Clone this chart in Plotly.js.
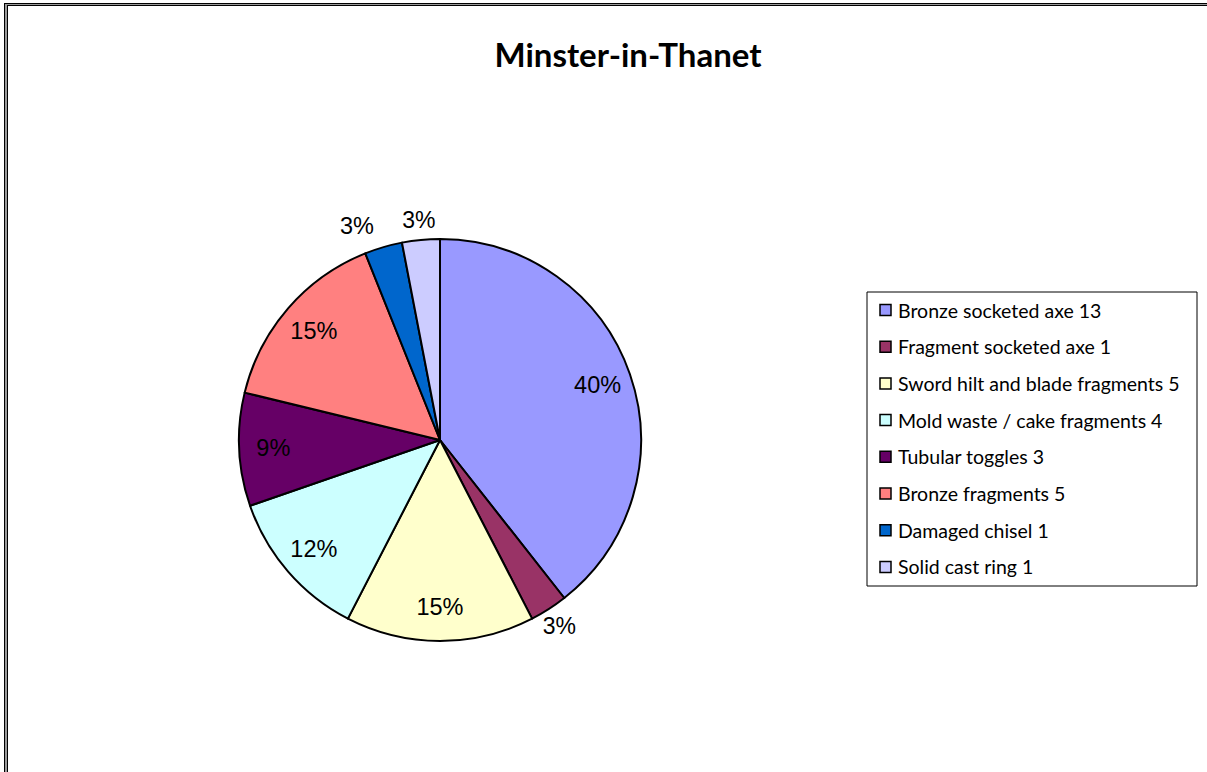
<!DOCTYPE html>
<html>
<head>
<meta charset="utf-8">
<script src="https://cdn.plot.ly/plotly-3.0.1.min.js"></script>
<style>
  html, body { margin: 0; padding: 0; background: #fff; }
  #wrap { position: relative; width: 1207px; height: 772px; overflow: hidden; }
  #chart { position: absolute; left: 0; top: 0; width: 1207px; height: 772px; }
  .ln { position: absolute; pointer-events: none; }
</style>
</head>
<body>
<div id="wrap">
  <div id="chart"></div>
  <div class="ln" style="left:4px; top:3px; width:1203px; height:1px; background:#000;"></div>
  <div class="ln" style="left:4px; top:4px; width:1203px; height:1px; background:#9a9a9a;"></div>
  <div class="ln" style="left:7px; top:5px; width:1200px; height:1px; background:#000;"></div>
  <div class="ln" style="left:4px; top:3px; width:1px; height:769px; background:#000;"></div>
  <div class="ln" style="left:5px; top:4px; width:2px; height:768px; background:#9a9a9a;"></div>
  <div class="ln" style="left:7px; top:5px; width:1px; height:767px; background:#000;"></div>
</div>
<script>
// ---- data ----
const categories = [
  "Bronze socketed axe 13",
  "Fragment socketed axe 1",
  "Sword hilt and blade fragments 5",
  "Mold waste / cake fragments 4",
  "Tubular toggles 3",
  "Bronze fragments 5",
  "Damaged chisel 1",
  "Solid cast ring 1"
];
const counts = [13, 1, 5, 4, 3, 5, 1, 1];
const percentLabels = ["40%", "3%", "15%", "12%", "9%", "15%", "3%", "3%"];
// where each label sits: inside the slice, in a ring just beyond the rim, or pushed outside
const labelPlacement = ["inside", "rim", "inside", "inside", "inside", "inside", "outside", "rim"];
const sliceColors = ["#9999FF", "#993366", "#FFFFCC", "#CCFFFF", "#660066", "#FF8080", "#0066CC", "#CCCCFF"];

// ---- layout helpers (pixels -> paper) ----
const W = 1207, H = 772;
const px = x => x / W;
const py = y => 1 - y / H;
const CX = 440, CY = 440, R = 201;
const dom = r => ({ x: [px(CX - r), px(CX + r)], y: [py(CY + r), py(CY - r)] });

const piePie = {
  type: "pie",
  labels: categories,
  values: counts,
  sort: false,
  direction: "clockwise",
  rotation: 0,
  domain: dom(R),
  marker: { colors: sliceColors, line: { color: "#000", width: 2 } },
  textinfo: "none",
  hoverinfo: "label+value",
  showlegend: false
};

const labelFont = { family: "Liberation Sans, Arial, sans-serif", size: 23.5, color: "#000" };
const clear = categories.map(() => "rgba(0,0,0,0)");
const base = {
  type: "pie", labels: categories, values: counts, sort: false,
  direction: "clockwise", rotation: 0,
  marker: { colors: clear, line: { width: 0 } },
  text: percentLabels, textinfo: "text",
  insidetextorientation: "horizontal",
  textfont: labelFont, hoverinfo: "skip", showlegend: false
};

// transparent ring carrying the inside percentage labels near the rim
const insideRing = Object.assign({}, base, {
  domain: dom(R), hole: 0.66,
  textposition: labelPlacement.map(p => p === "inside" ? "inside" : "none")
});

// transparent ring straddling the rim for small-slice labels
const RO = R + 41;
const rimRing = Object.assign({}, base, {
  domain: dom(RO), hole: (R - 4) / RO,
  textposition: labelPlacement.map(p => p === "rim" ? "inside" : "none")
});

// transparent layer for labels placed outside by the library
const outsideLayer = Object.assign({}, base, {
  domain: dom(R + 10),
  textposition: labelPlacement.map(p => p === "outside" ? "outside" : "none")
});

// ---- legend built from the category / colour arrays ----
const legX0 = 867, legX1 = 1197, legY0 = 292, legY1 = 586;
const itemTop = 310, itemStep = 36.7;
const shapes = [{
  type: "rect", xref: "paper", yref: "paper",
  x0: px(legX0), x1: px(legX1), y0: py(legY1), y1: py(legY0),
  line: { color: "#000", width: 1 }, fillcolor: "rgba(0,0,0,0)"
}];
const annotations = [];
categories.forEach((c, i) => {
  const cy = itemTop + i * itemStep;
  shapes.push({
    type: "rect", xref: "paper", yref: "paper",
    x0: px(880), x1: px(891), y0: py(cy + 5.5), y1: py(cy - 5.5),
    line: { color: "#000", width: 1.5 }, fillcolor: sliceColors[i]
  });
  annotations.push({
    xref: "paper", yref: "paper", x: px(896), y: py(cy),
    xanchor: "left", yanchor: "middle", showarrow: false,
    text: c, font: { family: "Lato, Carlito, sans-serif", size: 19.5, color: "#000" }
  });
});

const layout = {
  width: W, height: H,
  margin: { l: 0, r: 0, t: 0, b: 0 },
  paper_bgcolor: "#fff",
  title: {
    text: "<b>Minster-in-Thanet</b>",
    font: { family: "Lato, Carlito, sans-serif", size: 33, color: "#000" },
    x: px(628), xanchor: "center", xref: "paper",
    y: py(55), yanchor: "middle", yref: "container"
  },
  showlegend: false,
  shapes: shapes,
  annotations: annotations
};

Plotly.newPlot("chart", [piePie, insideRing, rimRing, outsideLayer], layout, { displayModeBar: false });
</script>
</body>
</html>
